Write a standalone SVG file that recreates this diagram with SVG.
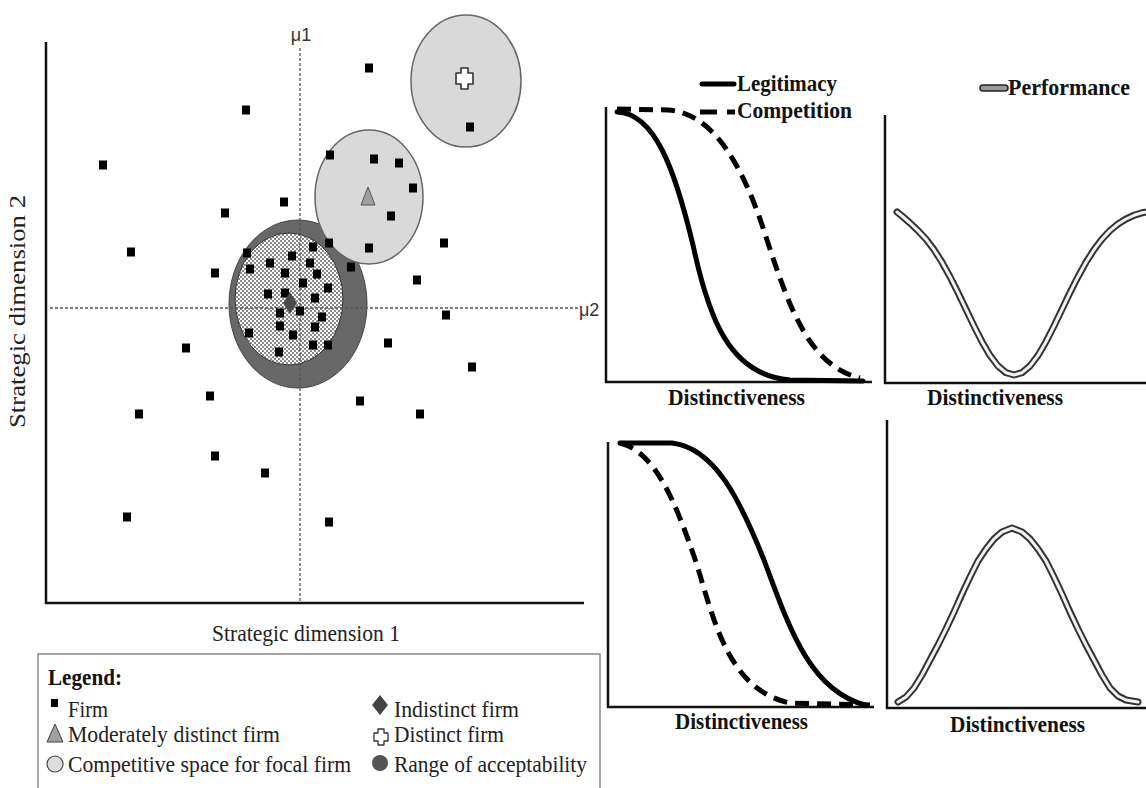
<svg xmlns="http://www.w3.org/2000/svg" xmlns:xlink="http://www.w3.org/1999/xlink" width="1146" height="788" viewBox="0 0 1146 788">
<style>
.ser{font-family:"Liberation Serif","Times New Roman",serif;fill:#222}
.b{font-weight:bold;fill:#111}
.mu{font-family:"Liberation Sans",Arial,sans-serif;font-size:18px;fill:#333}
.axis{stroke:#111;stroke-width:2.5;fill:none}
.guide{stroke:#555;stroke-width:1.3;stroke-dasharray:3 2;fill:none}
.leg{stroke:#000;stroke-width:5;fill:none;stroke-linecap:round}
.comp{stroke:#000;stroke-width:5;fill:none;stroke-dasharray:14 8}
.perfO{stroke:#333;stroke-width:7;fill:none;stroke-linecap:round;stroke-linejoin:round}
.perfI{stroke:#f2f2f2;stroke-width:3;fill:none;stroke-linecap:round;stroke-linejoin:round}
.light{fill:#d9d9d9;stroke:#666;stroke-width:1.5}
</style>
<defs>
<pattern id="chk" width="4" height="4" patternUnits="userSpaceOnUse">
<rect width="4" height="4" fill="#fff"/>
<rect width="2" height="2" fill="#8a8a8a"/>
<rect x="2" y="2" width="2" height="2" fill="#8a8a8a"/>
</pattern>
<rect id="sq" x="-4" y="-4.5" width="8" height="9" fill="#000"/>
</defs>

<!-- left plot -->
<g id="scatter-plot">
<g id="ellipses">
<ellipse id="range-acceptability" cx="298" cy="304" rx="69" ry="84" fill="#686868" stroke="#444" stroke-width="1"/>
<ellipse id="focal-space" cx="289" cy="299" rx="54" ry="66" fill="url(#chk)" stroke="#333" stroke-width="1"/>
<ellipse id="moderate-space" class="light" cx="369" cy="197" rx="54" ry="67"/>
<ellipse id="distinct-space" class="light" cx="466" cy="81" rx="55" ry="66"/>
</g>
<g id="guides">
<line class="guide" x1="300" y1="48" x2="300" y2="603"/>
<line class="guide" x1="50" y1="308" x2="578" y2="308"/>
</g>
<g id="axes-left">
<line class="axis" x1="46" y1="42" x2="46" y2="604"/>
<line class="axis" x1="45" y1="603" x2="584" y2="603"/>
</g>
<text class="mu" x="301" y="41" text-anchor="middle">μ1</text>
<text class="mu" x="579" y="316">μ2</text>
<text class="ser" x="212" y="641" font-size="23" textLength="188" lengthAdjust="spacingAndGlyphs">Strategic dimension 1</text>
<text class="ser" transform="translate(25,428) rotate(-90)" font-size="23" textLength="233" lengthAdjust="spacingAndGlyphs">Strategic dimension 2</text>
<g id="firms">
<use href="#sq" x="369" y="68"/><use href="#sq" x="246" y="110"/><use href="#sq" x="103" y="165"/>
<use href="#sq" x="470" y="127"/><use href="#sq" x="330" y="155"/><use href="#sq" x="374" y="159"/>
<use href="#sq" x="399" y="163"/><use href="#sq" x="413" y="188"/><use href="#sq" x="391" y="216"/>
<use href="#sq" x="369" y="248"/><use href="#sq" x="284" y="202"/><use href="#sq" x="225" y="213"/>
<use href="#sq" x="131" y="252"/><use href="#sq" x="215" y="273"/><use href="#sq" x="444" y="243"/>
<use href="#sq" x="329" y="243"/><use href="#sq" x="351" y="267"/><use href="#sq" x="417" y="280"/>
<use href="#sq" x="446" y="315"/><use href="#sq" x="186" y="348"/><use href="#sq" x="388" y="343"/>
<use href="#sq" x="472" y="367"/><use href="#sq" x="210" y="396"/><use href="#sq" x="139" y="414"/>
<use href="#sq" x="360" y="401"/><use href="#sq" x="420" y="414"/><use href="#sq" x="215" y="456"/>
<use href="#sq" x="265" y="473"/><use href="#sq" x="127" y="517"/><use href="#sq" x="329" y="522"/>
<use href="#sq" x="247" y="253"/><use href="#sq" x="270" y="263"/><use href="#sq" x="292" y="256"/>
<use href="#sq" x="310" y="263"/><use href="#sq" x="313" y="247"/><use href="#sq" x="250" y="269"/>
<use href="#sq" x="285" y="273"/><use href="#sq" x="317" y="274"/><use href="#sq" x="303" y="283"/>
<use href="#sq" x="328" y="288"/><use href="#sq" x="268" y="294"/><use href="#sq" x="285" y="293"/>
<use href="#sq" x="315" y="298"/><use href="#sq" x="300" y="311"/><use href="#sq" x="280" y="313"/>
<use href="#sq" x="322" y="317"/><use href="#sq" x="280" y="326"/><use href="#sq" x="315" y="327"/>
<use href="#sq" x="249" y="333"/><use href="#sq" x="293" y="335"/><use href="#sq" x="313" y="345"/>
<use href="#sq" x="328" y="345"/><use href="#sq" x="279" y="352"/>
</g>
<polygon id="indistinct-firm" points="290,292 297,303 290,314 283,303" fill="#4a4a4a"/>
<polygon id="moderate-firm" points="368,187 375,205 361,205" fill="#a0a0a0" stroke="#555" stroke-width="1"/>
<path id="distinct-firm" d="M461,68 h7 v5 h5 v11 h-5 v5 h-7 v-5 h-5 v-11 h5 z" fill="#fff" stroke="#333" stroke-width="1.6" stroke-linejoin="round"/>
</g>

<!-- legend -->
<g id="legend">
<rect x="38" y="654" width="562" height="150" fill="none" stroke="#888" stroke-width="1.5"/>
<text class="ser b" x="48" y="685" font-size="23" textLength="74" lengthAdjust="spacingAndGlyphs">Legend:</text>
<rect x="51" y="699" width="7" height="8" fill="#000"/>
<text class="ser" x="68" y="717" font-size="23" textLength="40" lengthAdjust="spacingAndGlyphs">Firm</text>
<polygon points="55,724 63,742 47,742" fill="#a0a0a0" stroke="#444" stroke-width="1"/>
<text class="ser" x="68" y="742" font-size="23" textLength="212" lengthAdjust="spacingAndGlyphs">Moderately distinct firm</text>
<circle cx="55" cy="764" r="8" fill="#ddd" stroke="#444" stroke-width="1.2"/>
<text class="ser" x="68" y="772" font-size="23" textLength="283" lengthAdjust="spacingAndGlyphs">Competitive space for focal firm</text>
<polygon points="380,695 388,705 380,715 372,705" fill="#444"/>
<text class="ser" x="394" y="717" font-size="23" textLength="125" lengthAdjust="spacingAndGlyphs">Indistinct firm</text>
<path d="M378,729 h6 v4 h4 v8 h-4 v4 h-6 v-4 h-4 v-8 h4 z" fill="#fff" stroke="#333" stroke-width="1.3" stroke-linejoin="round"/>
<text class="ser" x="394" y="742" font-size="23" textLength="110" lengthAdjust="spacingAndGlyphs">Distinct firm</text>
<circle cx="380" cy="763" r="8" fill="#555"/>
<text class="ser" x="394" y="772" font-size="23" textLength="193" lengthAdjust="spacingAndGlyphs">Range of acceptability</text>
</g>

<!-- top-left panel -->
<g id="panel-top-left">
<line class="axis" x1="606" y1="107" x2="606" y2="383"/>
<line class="axis" x1="605" y1="382" x2="872" y2="382"/>
<path class="comp" d="M617,109 L668,110 C715,113 745,170 767,240 C790,310 810,366 860,378"/>
<path class="leg" d="M617,112 C655,113 675,170 693,245 C708,315 728,375 790,380 L863,381"/>
<line class="leg" x1="702" y1="84" x2="734" y2="84"/>
<line x1="700" y1="112" x2="717" y2="112" stroke="#000" stroke-width="5"/>
<line x1="727" y1="112" x2="735" y2="112" stroke="#000" stroke-width="5"/>
<text class="ser b" x="737" y="91" font-size="23" textLength="100" lengthAdjust="spacingAndGlyphs">Legitimacy</text>
<text class="ser b" x="737" y="118" font-size="23" textLength="115" lengthAdjust="spacingAndGlyphs">Competition</text>
<text class="ser b" x="668" y="405" font-size="23" textLength="137" lengthAdjust="spacingAndGlyphs">Distinctiveness</text>
</g>

<!-- top-right panel -->
<g id="panel-top-right">
<line class="axis" x1="885" y1="115" x2="885" y2="384"/>
<line class="axis" x1="884" y1="383" x2="1146" y2="383"/>
<g id="perf-v">
<polyline class="perfO" points="897,212 902,216 910,223 918,230.6 926,239.1 934,249.7 942,262.2 950,276.7 958,292.6 966,309.3 974,326 982,341.7 990,355.4 998,366 1006,372.7 1014,375 1022,372.7 1030,366 1038,355.4 1046,341.7 1054,326 1062,309.3 1070,292.6 1078,276.7 1086,262.2 1094,249.7 1102,239.1 1110,230.6 1118,224 1126,219 1134,215.3 1142,212.8 1145,212.2"/>
<polyline class="perfI" points="897,212 902,216 910,223 918,230.6 926,239.1 934,249.7 942,262.2 950,276.7 958,292.6 966,309.3 974,326 982,341.7 990,355.4 998,366 1006,372.7 1014,375 1022,372.7 1030,366 1038,355.4 1046,341.7 1054,326 1062,309.3 1070,292.6 1078,276.7 1086,262.2 1094,249.7 1102,239.1 1110,230.6 1118,224 1126,219 1134,215.3 1142,212.8 1145,212.2"/>
</g>
<rect x="980" y="85" width="28" height="6" rx="3" fill="#999" stroke="#222" stroke-width="1.5"/>
<text class="ser b" x="1008" y="95" font-size="23" textLength="122" lengthAdjust="spacingAndGlyphs">Performance</text>
<text class="ser b" x="927" y="405" font-size="23" textLength="136" lengthAdjust="spacingAndGlyphs">Distinctiveness</text>
</g>

<!-- bottom-left panel -->
<g id="panel-bottom-left">
<line class="axis" x1="608" y1="442" x2="608" y2="708"/>
<line class="axis" x1="607" y1="707" x2="874" y2="707"/>
<path class="comp" d="M620,443 C655,452 675,500 697,565 C715,625 730,690 790,703 L870,705"/>
<path class="leg" d="M620,443 L672,443 C715,448 740,500 764,560 C790,630 810,690 865,705"/>
<text class="ser b" x="675" y="729" font-size="23" textLength="133" lengthAdjust="spacingAndGlyphs">Distinctiveness</text>
</g>

<!-- bottom-right panel -->
<g id="panel-bottom-right">
<line class="axis" x1="887" y1="420" x2="887" y2="709"/>
<line class="axis" x1="886" y1="708" x2="1146" y2="708"/>
<g id="perf-bump">
<polyline class="perfO" points="898,702 906,697 914,688 922,675 930,660 938,645 946,629 954,612 962,594 970,577 978,561 986,549 994,539 1002,532 1012,528 1022,532 1030,539 1038,549 1046,561 1054,577 1062,594 1070,612 1078,629 1086,645 1094,660 1102,675 1110,688 1118,696 1126,700 1138,702"/>
<polyline class="perfI" points="898,702 906,697 914,688 922,675 930,660 938,645 946,629 954,612 962,594 970,577 978,561 986,549 994,539 1002,532 1012,528 1022,532 1030,539 1038,549 1046,561 1054,577 1062,594 1070,612 1078,629 1086,645 1094,660 1102,675 1110,688 1118,696 1126,700 1138,702"/>
</g>
<text class="ser b" x="950" y="732" font-size="23" textLength="135" lengthAdjust="spacingAndGlyphs">Distinctiveness</text>
</g>
</svg>
